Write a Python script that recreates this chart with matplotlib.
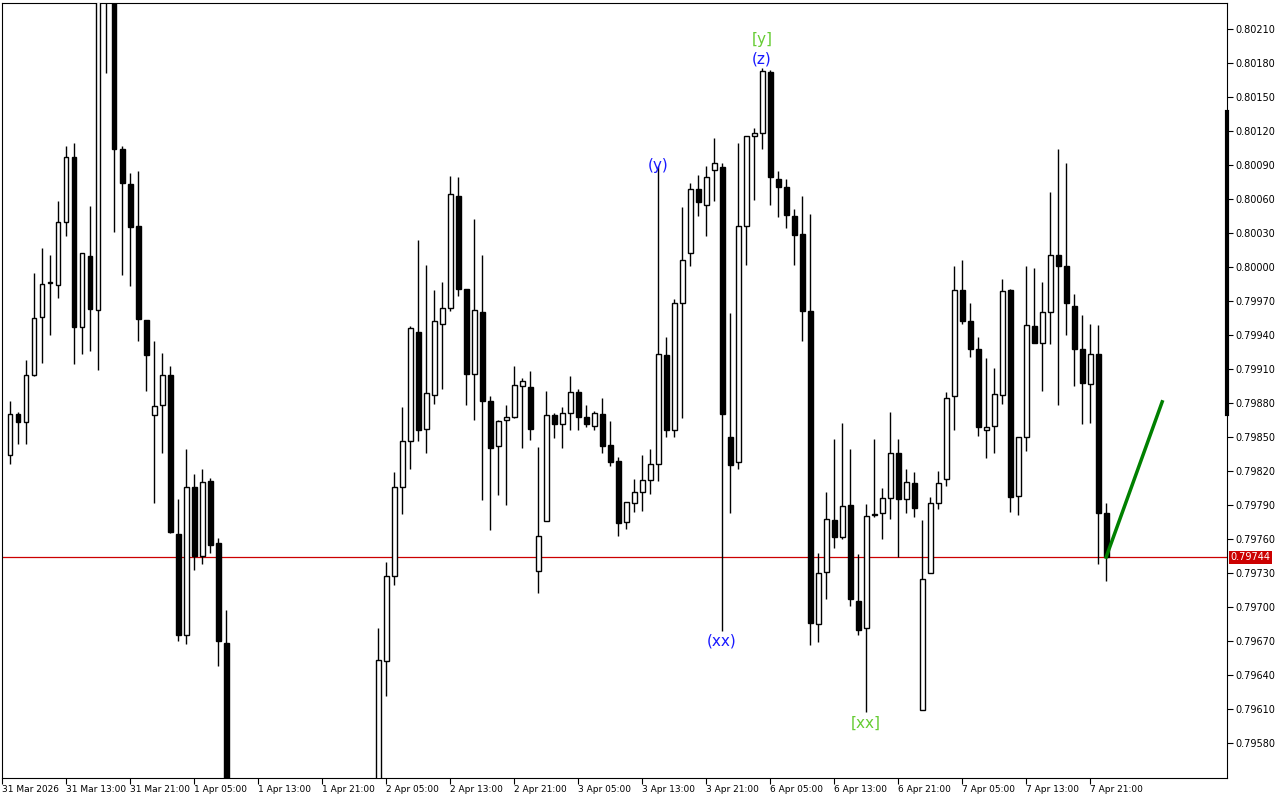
import matplotlib
matplotlib.use("Agg")
import matplotlib.pyplot as plt
import numpy as np

# hourly candles, index 0 = first bar on the chart
opens = [
    .79834, .79870, .79863, .79905, .79956, .79986, .79984, .80040, .80097, .79947,
    .80010, .79962, .80270, .80255, .80104, .80073, .80036, .79953, .79869, .79878,
    .79905, .79764, .79675, .79806, .79745, .79811, .79756, .79668, .79530, .79520,
    .79480, .79450, .79430, .79400, .79420, .79440, .79410, .79390, .79420, .79450,
    .79470, .79440, .79460, .79490, .79510, .79500, .79520, .79652, .79727, .79806,
    .79846, .79943, .79857, .79887, .79950, .79964, .80063, .79981, .79906, .79960,
    .79882, .79842, .79865, .79868, .79895, .79894, .79732, .79776, .79869, .79861,
    .79871, .79890, .79868, .79860, .79870, .79843, .79829, .79775, .79792, .79801,
    .79812, .79826, .79922, .79856, .79968, .80012, .80069, .80055, .80086, .80088,
    .79850, .79828, .80036, .80116, .80118, .80172, .80078, .80071, .80045, .80029,
    .79961, .79685, .79731, .79777, .79762, .79790, .79705, .79681, .79781, .79783,
    .79796, .79836, .79795, .79809, .79609, .79730, .79792, .79813, .79886, .79980,
    .79952, .79928, .79856, .79860, .79887, .79980, .79798, .79850, .79948, .79933,
    .79960, .80011, .80001, .79966, .79928, .79897, .79923, .79783,
]
highs = [
    .79882, .79872, .79918, .79995, .80017, .80011, .80058, .80107, .80109, .80012,
    .80054, .80260, .80290, .80265, .80107, .80083, .80085, .79953, .79935, .79924,
    .79913, .79795, .79839, .79817, .79822, .79814, .79761, .79697, .79540, .79530,
    .79495, .79460, .79440, .79430, .79450, .79450, .79420, .79430, .79460, .79480,
    .79480, .79470, .79500, .79520, .79525, .79530, .79681, .79740, .79819, .79876,
    .79948, .80024, .80002, .79980, .79987, .80080, .80079, .79981, .80042, .80011,
    .79886, .79865, .79878, .79913, .79902, .79908, .79841, .79891, .79871, .79876,
    .79904, .79892, .79878, .79873, .79884, .79864, .79832, .79793, .79813, .79834,
    .79839, .80089, .79938, .79972, .80053, .80074, .80081, .80089, .80114, .80092,
    .79959, .80109, .80116, .80123, .80176, .80174, .80085, .80078, .80051, .80063,
    .80047, .79748, .79801, .79848, .79862, .79839, .79747, .79791, .79848, .79805,
    .79872, .79848, .79822, .79819, .79777, .79797, .79820, .79890, .80001, .80006,
    .79968, .79938, .79920, .79911, .79989, .79981, .79850, .80001, .79999, .79987,
    .80066, .80104, .80092, .79976, .79958, .79950, .79949, .79792,
]
lows = [
    .79826, .79844, .79844, .79904, .79915, .79940, .79973, .80027, .79914, .79923,
    .79926, .79909, .80171, .80031, .79993, .79983, .79935, .79891, .79792, .79836,
    .79765, .79670, .79667, .79733, .79738, .79748, .79648, .79510, .79505, .79470,
    .79440, .79420, .79390, .79390, .79410, .79400, .79380, .79385, .79410, .79440,
    .79430, .79435, .79450, .79480, .79490, .79495, .79510, .79621, .79719, .79782,
    .79822, .79846, .79836, .79879, .79892, .79961, .79974, .79878, .79865, .79794,
    .79768, .79799, .79790, .79867, .79840, .79847, .79712, .79776, .79849, .79840,
    .79856, .79856, .79859, .79856, .79836, .79824, .79763, .79769, .79784, .79785,
    .79800, .79811, .79850, .79850, .79867, .80001, .80045, .80027, .80058, .79679,
    .79783, .79822, .80002, .80059, .80104, .80055, .80044, .80034, .80002, .79935,
    .79666, .79669, .79707, .79752, .79760, .79701, .79675, .79607, .79779, .79760,
    .79778, .79744, .79783, .79779, .79609, .79730, .79786, .79807, .79856, .79950,
    .79921, .79851, .79831, .79836, .79879, .79784, .79781, .79838, .79933, .79891,
    .79932, .79878, .79940, .79895, .79861, .79862, .79738, .79723,
]
closes = [
    .79870, .79863, .79905, .79955, .79985, .79986, .80040, .80097, .79947, .80012,
    .79963, .80245, .80250, .80104, .80074, .80035, .79954, .79922, .79877, .79905,
    .79766, .79675, .79806, .79745, .79810, .79755, .79670, .79530, .79520, .79480,
    .79450, .79430, .79400, .79420, .79440, .79410, .79390, .79420, .79450, .79470,
    .79440, .79460, .79490, .79510, .79500, .79520, .79653, .79727, .79806, .79846,
    .79946, .79856, .79889, .79952, .79964, .80064, .79981, .79906, .79962, .79882,
    .79840, .79864, .79868, .79896, .79899, .79857, .79763, .79869, .79861, .79871,
    .79890, .79868, .79861, .79871, .79842, .79828, .79774, .79793, .79801, .79812,
    .79826, .79923, .79856, .79968, .80006, .80069, .80057, .80079, .80092, .79870,
    .79825, .80036, .80116, .80118, .80173, .80079, .80071, .80046, .80028, .79961,
    .79686, .79730, .79778, .79762, .79789, .79707, .79680, .79780, .79782, .79796,
    .79836, .79795, .79810, .79787, .79725, .79792, .79809, .79884, .79980, .79952,
    .79928, .79859, .79859, .79888, .79979, .79797, .79850, .79949, .79933, .79960,
    .80011, .80001, .79968, .79928, .79898, .79923, .79783, .79744,
]

time_labels = ["31 Mar 2026", "31 Mar 13:00", "31 Mar 21:00", "1 Apr 05:00", "1 Apr 13:00",
               "1 Apr 21:00", "2 Apr 05:00", "2 Apr 13:00", "2 Apr 21:00", "3 Apr 05:00",
               "3 Apr 13:00", "3 Apr 21:00", "6 Apr 05:00", "6 Apr 13:00", "6 Apr 21:00",
               "7 Apr 05:00", "7 Apr 13:00", "7 Apr 21:00"]
price_ticks = [0.79580, 0.79610, 0.79640, 0.79670, 0.79700, 0.79730, 0.79760, 0.79790,
               0.79820, 0.79850, 0.79880, 0.79910, 0.79940, 0.79970, 0.80000, 0.80030,
               0.80060, 0.80090, 0.80120, 0.80150, 0.80180, 0.80210]
last_price = 0.79744
projection = [(137, 0.79744), (144, 0.79881)]
# wave labels: (bar index, price, text, colour)
wave_labels = [(81, 0.80090, "(y)", "#1a1aff"), (89, 0.79670, "(xx)", "#1a1aff"),
               (94, 0.80201, "[y]", "#66cc33"), (94, 0.80184, "(z)", "#1a1aff"),
               (107, 0.79597, "[xx]", "#66cc33")]

fig = plt.figure(figsize=(12.8, 8.0), dpi=100)
ax = fig.add_axes([2 / 1280, 22 / 800, 1225 / 1280, 775 / 800])

x = np.arange(len(opens))
o = np.array(opens)
c = np.array(closes)
ax.vlines(x, lows, highs, color="black", lw=1, zorder=2)
up = c >= o
body_h = np.abs(c - o)
body_h = np.where(body_h < 0.000005, 0.000005, body_h)
ax.bar(x, body_h, bottom=np.minimum(o, c), width=0.62,
       color=np.where(up, "white", "black"), edgecolor="black", lw=1, zorder=3)

ax.axhline(last_price, color="#cc0000", lw=0.9, zorder=1)
ax.plot([p[0] for p in projection], [p[1] for p in projection], color="#008000", lw=2.5, zorder=4)

for i, pr, txt, col in wave_labels:
    ax.text(i, pr, txt, color=col, fontsize=11, ha="center", va="center", zorder=5)

ax.set_xlim(-1, 152.1)
ax.set_ylim(0.79549, 0.80233)

ax.yaxis.tick_right()
ax.set_yticks(price_ticks)
ax.set_yticklabels([f"{v:.5f}" for v in price_ticks], fontsize=7)
ax.tick_params(axis="y", direction="out", length=4, pad=2)

ax.set_xticks([-1 + 8 * k for k in range(len(time_labels))])
ax.set_xticklabels(time_labels, fontsize=6.5)
for lab in ax.get_xticklabels():
    lab.set_horizontalalignment("left")
ax.tick_params(axis="x", direction="out", length=4, pad=1)

ax.text(1.003, last_price, f"{last_price:.5f}", transform=ax.get_yaxis_transform(),
        fontsize=7, color="white", va="center", ha="left",
        bbox=dict(boxstyle="square,pad=0.15", fc="#cc0000", ec="none"), zorder=6)

# scroll marker on the price axis
ax.plot([1, 1], [0.47, 0.86], transform=ax.transAxes, color="black", lw=3, clip_on=False)

for s in ax.spines.values():
    s.set_linewidth(0.8)

fig.savefig("out.png", dpi=100)
